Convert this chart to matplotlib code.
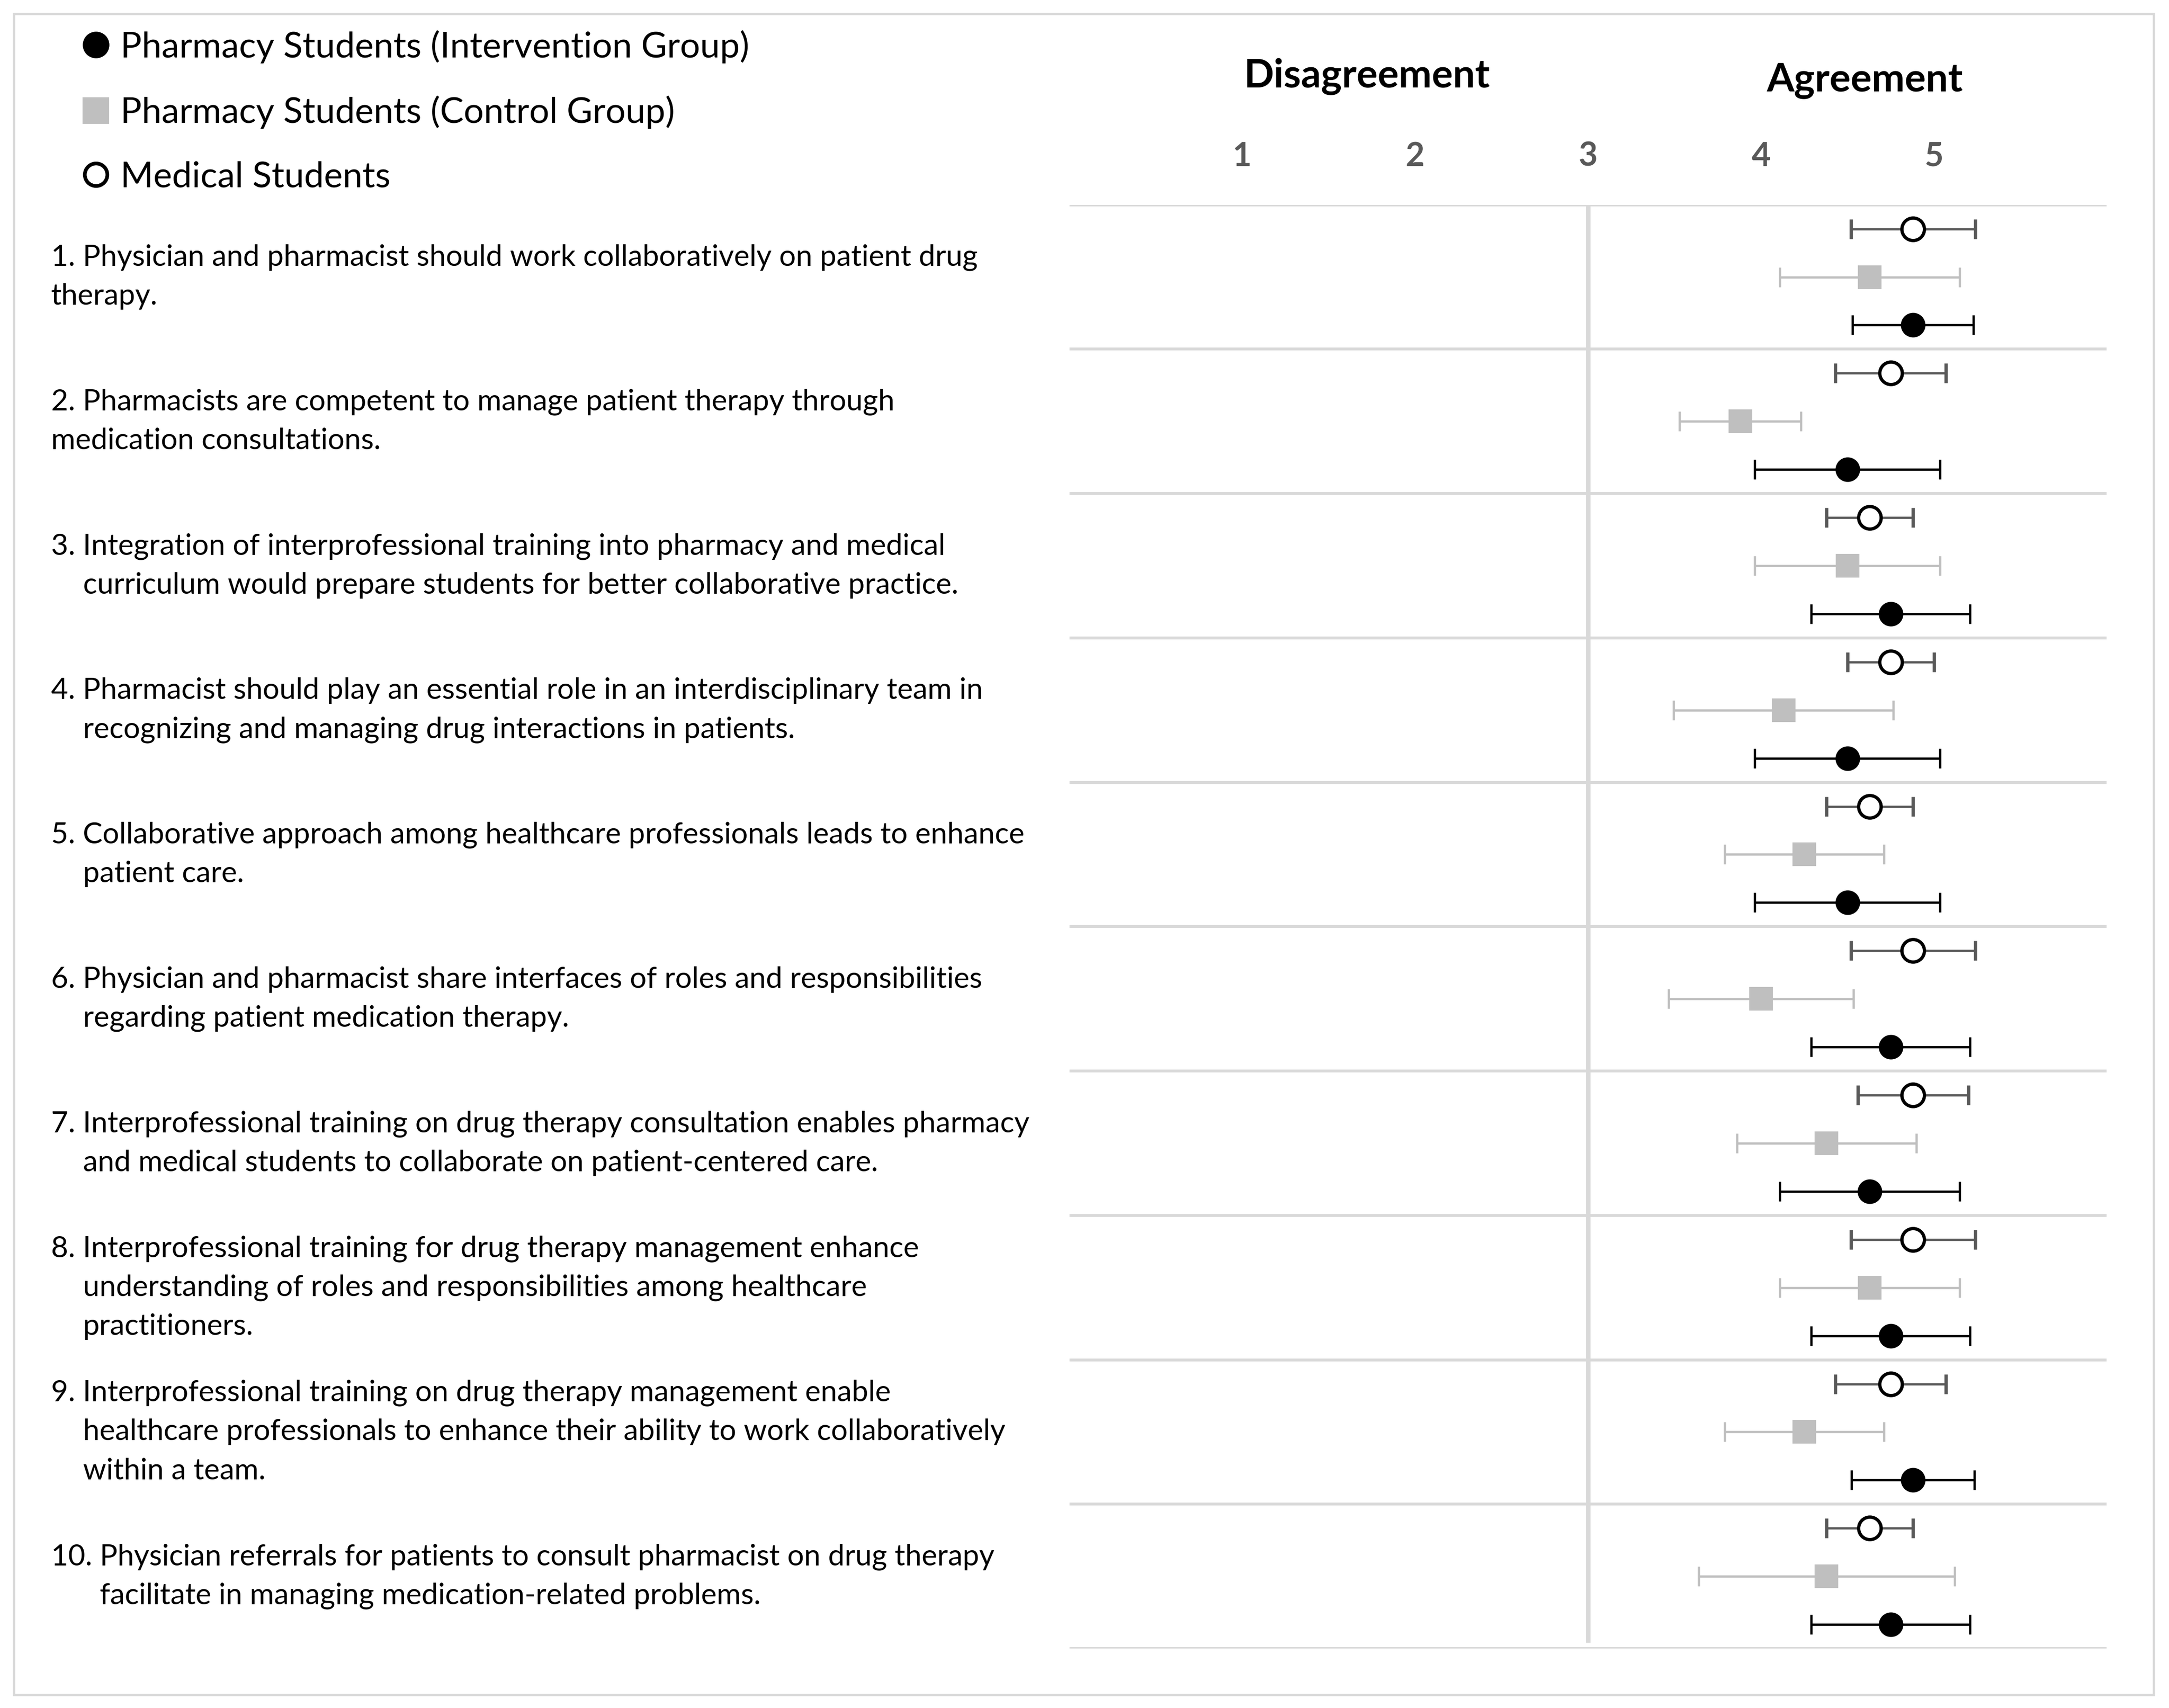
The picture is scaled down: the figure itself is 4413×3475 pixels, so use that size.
import numpy as np
import matplotlib
matplotlib.use('Agg')
import matplotlib.pyplot as plt
import matplotlib.transforms as mtransforms
from matplotlib.lines import Line2D
from matplotlib.patches import Rectangle

plt.rcParams['font.family'] = ['Lato', 'DejaVu Sans']

# statements, one list of display lines per item
statements = [
    ['1. Physician and pharmacist should work collaboratively on patient drug',
     'therapy.'],
    ['2. Pharmacists are competent to manage patient therapy through',
     'medication consultations.'],
    ['3. Integration of interprofessional training into pharmacy and medical',
     'curriculum would prepare students for better collaborative practice.'],
    ['4. Pharmacist should play an essential role in an interdisciplinary team in',
     'recognizing and managing drug interactions in patients.'],
    ['5. Collaborative approach among healthcare professionals leads to enhance',
     'patient care.'],
    ['6. Physician and pharmacist share interfaces of roles and responsibilities',
     'regarding patient medication therapy.'],
    ['7. Interprofessional training on drug therapy consultation enables pharmacy',
     'and medical students to collaborate on patient-centered care.'],
    ['8. Interprofessional training for drug therapy management enhance',
     'understanding of roles and responsibilities among healthcare',
     'practitioners.'],
    ['9. Interprofessional training on drug therapy management enable',
     'healthcare professionals to enhance their ability to work collaboratively',
     'within a team.'],
    ['10. Physician referrals for patients to consult pharmacist on drug therapy',
     'facilitate in managing medication-related problems.'],
]
hanging = [False, False, True, True, True, True, True, True, True, True]

group_labels = ['Pharmacy Students (Intervention Group)',
                'Pharmacy Students (Control Group)',
                'Medical Students']

# mean and half-width of the bars
med_mean = [4.88, 4.75, 4.63, 4.75, 4.63, 4.88, 4.88, 4.88, 4.75, 4.63]
med_err = [0.36, 0.32, 0.25, 0.25, 0.25, 0.36, 0.32, 0.36, 0.32, 0.25]
ctrl_mean = [4.63, 3.88, 4.50, 4.13, 4.25, 4.00, 4.38, 4.63, 4.25, 4.38]
ctrl_err = [0.52, 0.35, 0.535, 0.635, 0.46, 0.535, 0.52, 0.52, 0.46, 0.74]
int_mean = [4.88, 4.50, 4.75, 4.50, 4.50, 4.75, 4.63, 4.75, 4.88, 4.75]
int_err = [0.35, 0.535, 0.46, 0.535, 0.535, 0.46, 0.52, 0.46, 0.355, 0.46]

scale_ticks = [1, 2, 3, 4, 5]

GRID = '#D9D9D9'
FS = 14.4

fig = plt.figure(figsize=(4413 / 300, 3475 / 300), dpi=300)
ax = fig.add_axes([0.493, 0.0348, 0.4783, 0.8453])

n = len(statements)
rows = np.arange(n)

ax.hlines(np.arange(n + 1), 0, 6, color=GRID, lw=1.4, zorder=0)
ax.vlines(3, 0, n - 0.04, color=GRID, lw=2.2, zorder=0)

ax.errorbar(med_mean, rows + 1 / 6, xerr=med_err, fmt='o', ms=11,
            mfc='white', mec='black', mew=1.6, ecolor='#595959',
            elinewidth=1.1, capsize=4.7, capthick=1.1)
ax.errorbar(ctrl_mean, rows + 1 / 2, xerr=ctrl_err, fmt='s', ms=10.5,
            mfc='#BFBFBF', mec='#BFBFBF', ecolor='#BFBFBF',
            elinewidth=1.1, capsize=4.7, capthick=1.1)
ax.errorbar(int_mean, rows + 5 / 6, xerr=int_err, fmt='o', ms=11,
            mfc='black', mec='black', ecolor='black',
            elinewidth=1.1, capsize=4.7, capthick=1.1)

ax.set_xlim(0, 6)
ax.set_ylim(n, 0)
for s in ax.spines.values():
    s.set_visible(False)
ax.set_yticks([])
ax.set_xticks(scale_ticks)
ax.xaxis.set_ticks_position('top')
ax.tick_params(axis='x', length=0, pad=16, labelsize=16, labelcolor='#595959')
for lab in ax.get_xticklabels():
    lab.set_fontweight('bold')

xt = ax.get_xaxis_transform()
ax.text(1.72, 1.089, 'Disagreement', transform=xt, ha='center', va='center',
        fontsize=19.3, fontweight='bold')
ax.text(4.6, 1.086, 'Agreement', transform=xt, ha='center', va='center',
        fontsize=19.3, fontweight='bold')

# statement text on the left, centred on each band
renderer = fig.canvas.get_renderer()
blend = mtransforms.blended_transform_factory(fig.transFigure, ax.transData)
line_step = 0.27
for i, lines in enumerate(statements):
    indent = 0
    if hanging[i]:
        rest = lines[0].split(' ', 1)[1]
        t1 = fig.text(0, 0, lines[0], fontsize=FS)
        t2 = fig.text(0, 0, rest, fontsize=FS)
        indent = (t1.get_window_extent(renderer).width
                  - t2.get_window_extent(renderer).width)
        t1.remove()
        t2.remove()
    for k, line in enumerate(lines):
        y = i + 0.5 + (k - (len(lines) - 1) / 2) * line_step
        dx = indent if k > 0 else 0
        tr = blend + mtransforms.ScaledTranslation(dx / fig.dpi, 0, fig.dpi_scale_trans)
        fig.text(0.0236, y, line, transform=tr, fontsize=FS, ha='left', va='center')

handles = [
    Line2D([], [], ls='none', marker='o', ms=12, mfc='black', mec='black'),
    Line2D([], [], ls='none', marker='s', ms=12, mfc='#BFBFBF', mec='#BFBFBF'),
    Line2D([], [], ls='none', marker='o', ms=11, mfc='white', mec='black', mew=1.8),
]
fig.legend(handles, group_labels, loc='upper left', bbox_to_anchor=(0.0376, 0.9825),
           frameon=False, fontsize=17.3, handlelength=0.8, handletextpad=0.3,
           labelspacing=0.91, borderpad=0, borderaxespad=0)

fig.add_artist(Rectangle((0.00635, 0.0078), 0.9866, 0.9842, transform=fig.transFigure,
                         fill=False, ec=GRID, lw=1.2))

fig.savefig('out.png', dpi=300)
